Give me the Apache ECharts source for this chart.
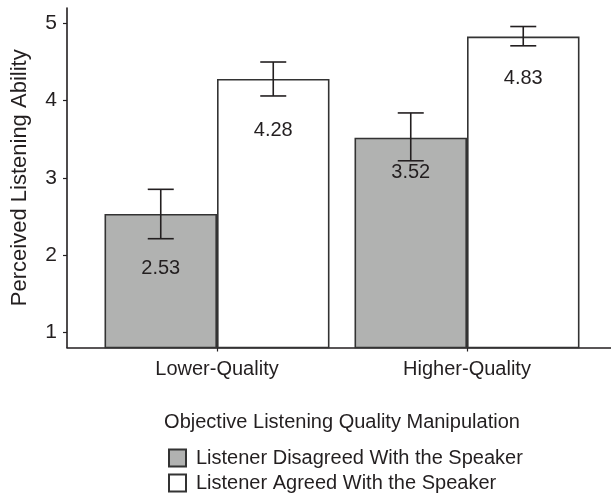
<!DOCTYPE html>
<html>
<head>
  <meta charset="utf-8">
  <title>Perceived Listening Ability</title>
  <style>
    html, body { margin: 0; padding: 0; background: #fff; }
    #main { width: 611px; height: 497px; }
  </style>
</head>
<body>
<div id="main"></div>
<script src="https://cdn.jsdelivr.net/npm/echarts@6/dist/echarts.min.js"></script>
<script>
  // data
  var categories = ['Lower-Quality', 'Higher-Quality'];
  var seriesNames = ['Listener Disagreed With the Speaker', 'Listener Agreed With the Speaker'];
  var disagreed = [2.53, 3.52];
  var agreed = [4.28, 4.83];
  var disagreedErr = [[2.21, 2.85], [3.22, 3.84]];
  var agreedErr = [[4.06, 4.50], [4.71, 4.96]];
  // where the value text sits (in axis units)
  var disagreedLabelAt = [1.83, 3.07];
  var agreedLabelAt = [3.61, 4.29];
  var yTicks = [1, 2, 3, 4, 5];

  var font = "'Liberation Sans', Arial, sans-serif";
  var ink = '#231f20';
  var yMin = 0.8, yMax = 5.2;

  var myChart = echarts.init(document.getElementById('main'));

  // error bar + value text, drawn on the category axis
  function errorSeries(name, values, errs, labelAt, side) {
    var data = values.map(function (v, i) {
      return [i, v, errs[i][0], errs[i][1], labelAt[i]];
    });
    return {
      type: 'custom',
      name: name,
      xAxisIndex: 1,
      yAxisIndex: 1,
      z: 5,
      silent: true,
      data: data,
      renderItem: function (params, api) {
        var i = api.value(0);
        var band = api.size([1, 0])[0];
        var off = side * band * 0.9 / 4;
        var hi = api.coord([i, api.value(3)]);
        var lo = api.coord([i, api.value(2)]);
        var lab = api.coord([i, api.value(4)]);
        var x = hi[0] + off;
        var cap = 13;
        var st = { stroke: ink, lineWidth: 1.6 };
        return {
          type: 'group',
          children: [
            { type: 'line', shape: { x1: x, y1: hi[1], x2: x, y2: lo[1] }, style: st },
            { type: 'line', shape: { x1: x - cap, y1: hi[1], x2: x + cap, y2: hi[1] }, style: st },
            { type: 'line', shape: { x1: x - cap, y1: lo[1], x2: x + cap, y2: lo[1] }, style: st },
            {
              type: 'text',
              style: {
                x: x, y: lab[1],
                text: api.value(1).toFixed(2),
                fill: ink,
                font: '20px ' + font,
                textAlign: 'center',
                textVerticalAlign: 'middle'
              }
            }
          ]
        };
      }
    };
  }

  myChart.setOption({
    animation: false,
    textStyle: { fontFamily: font, color: ink },
    legend: {
      orient: 'vertical',
      left: 168,
      top: 447,
      height: 60,
      padding: 0,
      itemWidth: 17,
      itemHeight: 17,
      itemGap: 3,
      icon: 'rect',
      textStyle: { fontSize: 20, lineHeight: 22, color: ink, fontFamily: font, padding: [0, 0, 0, 5] },
      data: seriesNames
    },
    grid: [
      // axis frame
      { left: 67, top: 8, right: 0, bottom: 149.5 },
      // bars
      { left: 92, top: 8, right: 19, bottom: 149.5 }
    ],
    xAxis: [
      {
        gridIndex: 0,
        type: 'value',
        min: 0, max: 1,
        axisLine: { show: true, lineStyle: { color: ink, width: 1.6 } },
        axisTick: { show: false },
        axisLabel: { show: false },
        splitLine: { show: false }
      },
      {
        gridIndex: 1,
        type: 'category',
        data: categories,
        name: 'Objective Listening Quality Manipulation',
        nameLocation: 'middle',
        nameGap: 65,
        nameTextStyle: { fontSize: 20, color: ink, fontFamily: font },
        axisLine: { show: false },
        axisTick: { show: true, alignWithLabel: true, length: 4, lineStyle: { color: ink, width: 1.2 } },
        axisLabel: { fontSize: 20, color: ink, margin: 12, fontFamily: font },
        splitLine: { show: false }
      }
    ],
    yAxis: [
      {
        gridIndex: 0,
        type: 'value',
        min: yMin, max: yMax,
        name: 'Perceived Listening Ability',
        nameLocation: 'middle',
        nameGap: 36,
        nameTextStyle: { fontSize: 22, color: ink, fontFamily: font },
        axisLine: { show: true, lineStyle: { color: ink, width: 1.6 } },
        axisTick: { show: true, length: 4, customValues: yTicks, lineStyle: { color: ink, width: 1.2 } },
        axisLabel: { fontSize: 21, color: ink, margin: 10, customValues: yTicks, fontFamily: font },
        splitLine: { show: false }
      },
      {
        gridIndex: 1,
        type: 'value',
        min: yMin, max: yMax,
        show: false
      }
    ],
    series: [
      {
        type: 'bar',
        name: seriesNames[0],
        xAxisIndex: 1,
        yAxisIndex: 1,
        barGap: '0%',
        barCategoryGap: '10%',
        itemStyle: { color: '#b1b2b1', borderColor: '#333', borderWidth: 1.6 },
        data: disagreed
      },
      {
        type: 'bar',
        name: seriesNames[1],
        xAxisIndex: 1,
        yAxisIndex: 1,
        barGap: '0%',
        barCategoryGap: '10%',
        itemStyle: { color: '#ffffff', borderColor: '#333', borderWidth: 1.6 },
        data: agreed
      },
      errorSeries('err0', disagreed, disagreedErr, disagreedLabelAt, -1),
      errorSeries('err1', agreed, agreedErr, agreedLabelAt, 1)
    ]
  });
</script>
</body>
</html>
